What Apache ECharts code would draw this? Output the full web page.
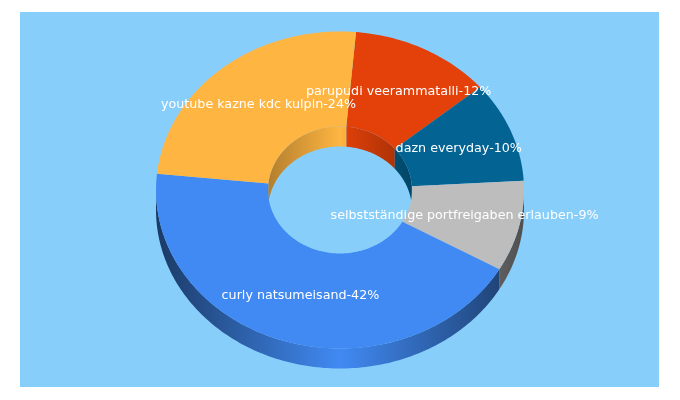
<!DOCTYPE html>
<html>
<head>
<meta charset="utf-8">
<style>html,body{margin:0;padding:0;background:#fff}#c{width:680px;height:400px}</style>
<script src="https://cdn.jsdelivr.net/npm/echarts@6/dist/echarts.min.js"></script>
</head>
<body>
<div id="c"></div>
<script>
var categories = ['parupudi veerammatalli','dazn everyday','selbstständige portfreigaben erlauben','curly natsumeisand','youtube kazne kdc kulpin'];
var shares = [12,10,9,42,24];
var colors = ['#E34109','#036493','#BDBDBD','#418AF3','#FFB541'];

var startDeg = 5, CX = 340, CY = 190, RX = 184, RY = 158.5, IRX = 72, IRY = 63.5, DEPTH = 20;
var total = shares.reduce(function(a,b){return a+b;},0);
function startOf(i){var s=0;for(var k=0;k<i;k++)s+=shares[k];return startDeg+s/total*360;}
function endOf(i){return startOf(i)+shares[i]/total*360;}
function pt(rx,ry,deg,dy){var t=deg*Math.PI/180;return [CX+rx*Math.sin(t),CY-ry*Math.cos(t)+(dy||0)];}
function arc(rx,ry,a,b,dy){var n=Math.max(2,Math.ceil(Math.abs(b-a))),p=[];for(var j=0;j<=n;j++)p.push(pt(rx,ry,a+(b-a)*j/n,dy));return p;}
function shade(hex,f){var n=parseInt(hex.slice(1),16);return 'rgb('+Math.round((n>>16&255)*f)+','+Math.round((n>>8&255)*f)+','+Math.round((n&255)*f)+')';}
function grad(hex,x0,x1,edge){return new echarts.graphic.LinearGradient(x0,0,x1,0,[{offset:0,color:shade(hex,edge)},{offset:.5,color:shade(hex,1)},{offset:1,color:shade(hex,edge)}],true);}
// intersection of a slice's angular range with a window, unrolled to the slice's own turn
function clip(i,lo,hi){var out=[],a=startOf(i),b=endOf(i);for(var k=-1;k<=1;k++){var s=Math.max(a,lo+360*k),e=Math.min(b,hi+360*k);if(e>s)out.push([s,e]);}return out;}

function renderSide(params){
  var i=params.dataIndex,children=clip(i,90,270).map(function(r){
    return {type:'polygon',shape:{points:arc(RX,RY,r[0],r[1],0).concat(arc(RX,RY,r[1],r[0],DEPTH))},
      style:{fill:grad(colors[i],CX-RX,CX+RX,.42)}};
  });
  return {type:'group',children:children};
}
function renderWall(params){
  var i=params.dataIndex,children=clip(i,-90,90).map(function(r){
    return {type:'polygon',shape:{points:arc(IRX,IRY,r[0],r[1],0).concat(arc(IRX,IRY,r[1],r[0],DEPTH))},
      style:{fill:grad(colors[i],CX-IRX,CX+IRX,.7)}};
  });
  return {type:'group',children:children};
}
function renderFace(params){
  var i=params.dataIndex,a=startOf(i),b=endOf(i);
  return {type:'polygon',shape:{points:arc(RX,RY,a,b,0).concat(arc(IRX,IRY,b,a,0))},style:{fill:colors[i]}};
}
function renderLabel(params,api){
  var i=params.dataIndex,m=(startOf(i)+endOf(i))/2,p=pt((RX+IRX)/2,(RY+IRY)/2,m,0);
  return {type:'text',style:{x:p[0],y:p[1],text:categories[i]+'-'+api.value(0)+'%',fill:'#fff',font:'12.7px "DejaVu Sans"',align:'center',verticalAlign:'middle'}};
}
function layer(fn,z){return {type:'custom',coordinateSystem:'none',renderItem:fn,data:shares,z:z,silent:true,animation:false,clip:false};}
var chart=echarts.init(document.getElementById('c'),null,{renderer:'canvas',devicePixelRatio:1});
chart.setOption({
  animation:false,
  backgroundColor:'#fff',
  graphic:[{type:'rect',z:0,shape:{x:20,y:12,width:639,height:375},style:{fill:'#87CEFA'}}],
  series:[layer(renderSide,1),layer(renderWall,2),layer(renderFace,3),layer(renderLabel,4)]
});
</script>
</body>
</html>
